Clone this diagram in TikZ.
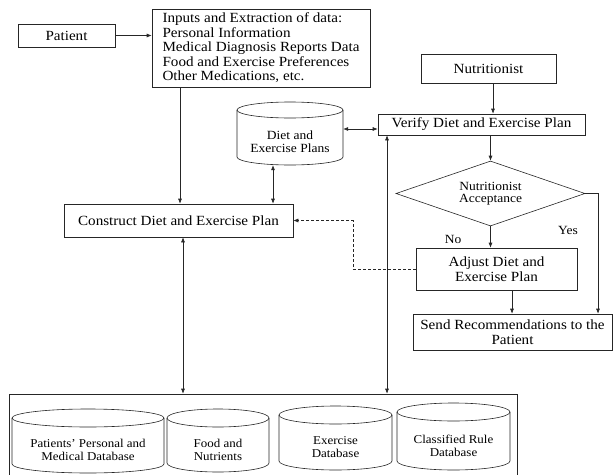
\documentclass[tikz,border=0pt]{standalone}
\usepackage{fontspec}
\setmainfont{Liberation Serif}[FakeStretch=1.08]
\usetikzlibrary{arrows.meta,shapes.geometric,calc}
\newcommand\fmain{\fontsize{14}{14.5}\selectfont}
\newcommand\fsmall{\fontsize{12.5}{12.5}\selectfont}
\newcommand\fdb{\fontsize{12}{13}\selectfont}
% cylinder: name, x1, y1, x2, y2, ry, text, font
\newcommand\dbcyl[8]{%
  \pgfmathsetmacro\cylcx{(#2+#4)/2}%
  \pgfmathsetmacro\cylrx{(#4-#2)/2}%
  \pgfmathsetmacro\cylya{#3+#6}%
  \pgfmathsetmacro\cylyb{#5-#6}%
  \pgfmathsetmacro\cylym{(#3+2*#6+#5)/2}%
  \pgfmathsetmacro\cylh{#5-#3-2*#6}%
  \pgfmathsetmacro\cylw{#4-#2}%
  \draw[line] (\cylcx,\cylya) ellipse[x radius=\cylrx pt, y radius=#6pt];
  \draw[line] (#2,\cylya) -- (#2,\cylyb) arc[start angle=180,end angle=360,x radius=\cylrx pt,y radius=#6pt] -- (#4,\cylya);
  \node[inner sep=0pt, minimum width=\cylw pt, minimum height=\cylh pt, align=center, font=#8] (#1) at (\cylcx,\cylym) {#7};
}
\begin{document}
\begin{tikzpicture}[x=1pt,y=-1pt,
  line/.style={line width=0.6pt, draw=black!85},
  box/.style={line, draw, rectangle, inner sep=0pt, align=center, font=\fmain},
  arr/.style={line, -{Latex[length=5pt,width=4pt]}},
  darr/.style={line, {Latex[length=5pt,width=4pt]}-{Latex[length=5pt,width=4pt]}},
  dashline/.style={dash pattern=on 3pt off 2pt}]
\useasboundingbox (0,0) rectangle (613,474);

% process boxes
\node[box, minimum width=97pt, minimum height=23pt] (patient) at (66.5,35.5) {Patient};
\node[box, minimum width=218pt, minimum height=78pt, align=left] (inputs) at (261,48)
  {Inputs and Extraction of data:\\ Personal Information\\ Medical Diagnosis Reports Data\\ Food and Exercise Preferences\\ Other Medications, etc.};
\node[box, minimum width=229pt, minimum height=33pt] (construct) at (178.5,220.5) {Construct Diet and Exercise Plan};
\node[box, minimum width=135pt, minimum height=29pt] (nutri) at (488.5,68.5) {Nutritionist};
\node[box, minimum width=207pt, minimum height=21pt] (verify) at (481.5,124.5) {Verify Diet and Exercise Plan};
\node[line, draw, diamond, aspect=2.9, minimum width=189pt, minimum height=65pt, inner sep=0pt, align=center, font=\fsmall] (accept) at (490.5,193.5) {Nutritionist\\Acceptance};
\node[box, minimum width=161pt, minimum height=42pt] (adjust) at (496.5,269) {Adjust Diet and\\Exercise Plan};
\node[box, minimum width=199pt, minimum height=36pt] (send) at (512.5,332) {Send Recommendations to the\\Patient};
\node[font=\fsmall] (nolab) at (453,239) {No};
\node[font=\fsmall] (yeslab) at (568,230) {Yes};

% databases
\dbcyl{dietdb}{237}{102}{343}{165}{8}{Diet and\\Exercise Plans}{\fsmall}
\node[line, draw, minimum width=508pt, minimum height=86pt, inner sep=0pt] (dbbox) at (263,437) {};
\dbcyl{pdb}{12}{409}{164}{473}{9}{Patients' Personal and\\Medical Database}{\fdb}
\dbcyl{fdb}{167}{409}{269}{472}{9}{Food and\\Nutrients}{\fdb}
\dbcyl{edb}{279}{406}{392}{470}{9}{Exercise\\Database}{\fdb}
\dbcyl{rdb}{397}{403}{510}{470}{9}{Classified Rule\\Database}{\fdb}

% helper coordinates
\coordinate (xin) at (180,0);
\coordinate (xdiet) at (273,0);
\coordinate (ydv) at (0,129);
\coordinate (xnv) at (493,0);
\coordinate (xyes) at (598,193.5);
\coordinate (xas) at (512,0);
\coordinate (xdash) at (353,0);
\coordinate (xc) at (183,0);
\coordinate (xv) at (387,0);

% connectors
\draw[arr] (patient.east) -- (inputs.west |- patient.east);
\draw[arr] (inputs.south -| xin) -- (construct.north -| xin);
\draw[darr] (dietdb.south -| xdiet) -- (construct.north -| xdiet);
\draw[darr] (dietdb.east |- ydv) -- (verify.west |- ydv);
\draw[arr] (nutri.south -| xnv) -- (verify.north -| xnv);
\draw[arr] (verify.south -| accept.north) -- (accept.north);
\draw[arr] (accept.south) -- (adjust.north -| accept.south);
\draw[arr] (accept.east) -- (xyes) -- (send.north -| xyes);
\draw[arr] (adjust.south -| xas) -- (send.north -| xas);
\draw[arr, dashline] (adjust.west) -- (adjust.west -| xdash) |- (construct.east);
\draw[darr] (construct.south -| xc) -- (dbbox.north -| xc);
\draw[darr] (verify.south -| xv) -- (dbbox.north -| xv);
\end{tikzpicture}
\end{document}
